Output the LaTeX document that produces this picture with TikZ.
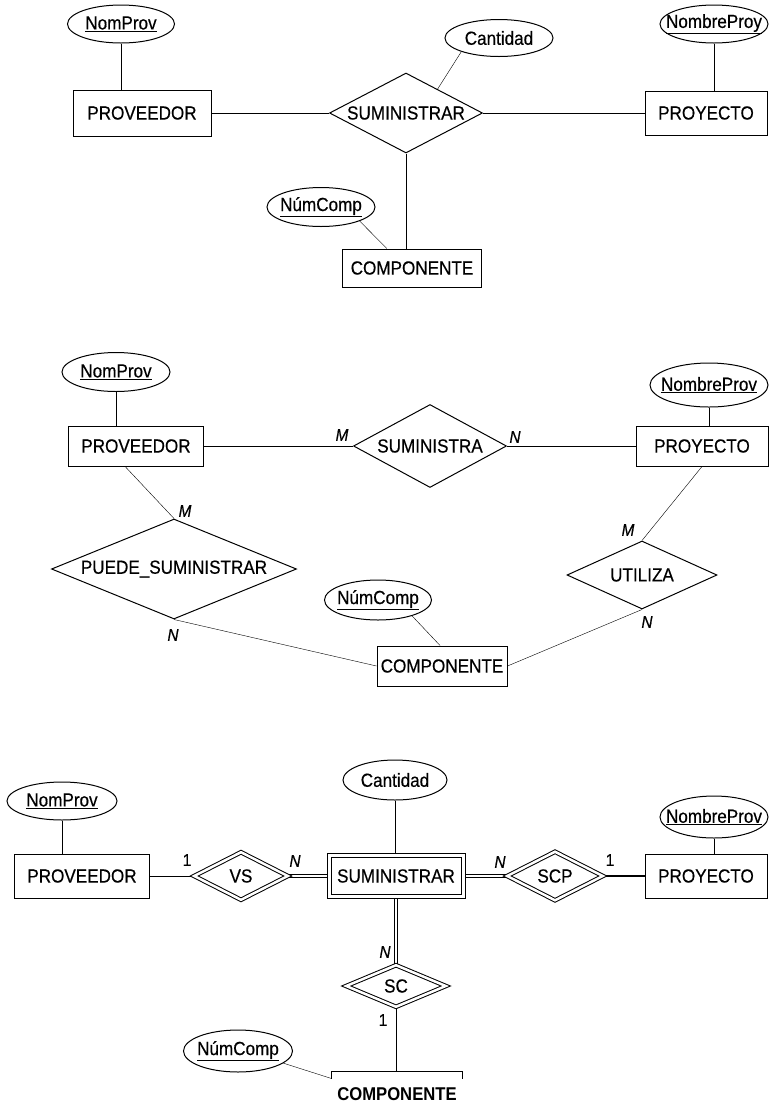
\documentclass[tikz,border=0pt]{standalone}
\usepackage{fontspec}
\setmainfont{Liberation Sans}[FakeStretch=0.9,UprightFeatures={FakeBold=0.4},ItalicFeatures={FakeBold=0.6}]
\usetikzlibrary{shapes.geometric,calc}
\pgfdeclarelayer{background}
\pgfsetlayers{background,main}
% zero-width label so that shapes keep their given size
\newcommand\lbl[1]{\makebox[0pt]{#1}}

\begin{document}
\begin{tikzpicture}[x=1pt,y=-1pt,line width=1pt,
  every node/.style={font=\fontsize{19}{21}\selectfont,inner sep=0pt},
  entity/.style={draw,rectangle},
  weakent/.style={draw,rectangle,double,double distance=3pt},
  attr/.style={draw,ellipse},
  rel/.style={draw,diamond},
  idrel/.style={draw,diamond,double,double distance=2.5pt},
  card/.style={font=\fontsize{17}{18}\selectfont\itshape},
  num/.style={font=\fontsize{17}{18}\selectfont},
  dbl/.style={double,double distance=2.5pt},
]
\useasboundingbox (0,0) rectangle (769,1104);

% ---------- first schema: ternary relationship ----------
\node[attr,minimum width=107,minimum height=38] (np1) at (121,24) {\lbl{\underline{NomProv}}};
\node[entity,minimum width=138,minimum height=46] (pv1) at (142,113) {PROVEEDOR};
\node[rel,minimum width=153,minimum height=80] (su1) at (406,113) {\lbl{SUMINISTRAR}};
\node[attr,minimum width=108,minimum height=37] (ca1) at (499,38) {\lbl{Cantidad}};
\node[attr,minimum width=108,minimum height=38] (npy1) at (714,24) {\lbl{\underline{NombreProy}}};
\node[entity,minimum width=122,minimum height=44] (py1) at (706,113) {PROYECTO};
\node[attr,minimum width=108,minimum height=39] (nc1) at (321,207) {\lbl{\underline{NúmComp}}};
\node[entity,minimum width=139,minimum height=38] (co1) at (412,268) {COMPONENTE};

% ---------- second schema: three binary relationships ----------
\node[attr,minimum width=108,minimum height=39] (np2) at (116,372) {\lbl{\underline{NomProv}}};
\node[entity,minimum width=135,minimum height=40] (pv2) at (136,446) {PROVEEDOR};
\node[rel,minimum width=153,minimum height=83] (su2) at (430,446) {\lbl{SUMINISTRA}};
\node[attr,minimum width=118,minimum height=44] (npv2) at (709,385) {\lbl{\underline{NombreProv}}};
\node[entity,minimum width=132,minimum height=40] (py2) at (702,446) {PROYECTO};
\node[rel,minimum width=150,minimum height=68] (ut2) at (642,575) {\lbl{UTILIZA}};
\node[entity,minimum width=130,minimum height=40] (co2) at (442,666) {COMPONENTE};
\node[attr,minimum width=107,minimum height=40] (nc2) at (378,600) {\lbl{\underline{NúmComp}}};
\node[rel,minimum width=245,minimum height=100] (ps2) at (174,569) {\lbl{PUEDE\_SUMINISTRAR}};

\node[card] (c2a) at (342,435) {M};
\node[card] (c2b) at (515,437) {N};
\node[card] (c2c) at (185,511) {M};
\node[card] (c2d) at (173,635) {N};
\node[card] (c2e) at (628,530) {M};
\node[card] (c2f) at (647,622) {N};

% ---------- third schema: weak entity SUMINISTRAR ----------
\node[attr,minimum width=110,minimum height=38] (np3) at (62,801) {\lbl{\underline{NomProv}}};
\node[entity,minimum width=135,minimum height=44] (pv3) at (82,876) {PROVEEDOR};
\node[idrel,minimum width=94,minimum height=48] (vs3) at (241,876) {\lbl{VS}};
\node[weakent,minimum width=134,minimum height=41] (su3) at (396,876) {SUMINISTRAR};
\node[attr,minimum width=104,minimum height=40] (ca3) at (395,780) {\lbl{Cantidad}};
\node[idrel,minimum width=96,minimum height=49] (scp3) at (555,876) {\lbl{SCP}};
\node[entity,minimum width=122,minimum height=44] (py3) at (706,876) {PROYECTO};
\node[attr,minimum width=108,minimum height=42] (npv3) at (714,817) {\lbl{\underline{NombreProv}}};
\node[idrel,minimum width=100,minimum height=42] (sc3) at (396,986) {\lbl{SC}};
\node[minimum width=130,minimum height=44,font=\fontsize{18.5}{20}\selectfont\bfseries] (co3) at (397,1094) {COMPONENTE};
\node[attr,minimum width=109,minimum height=42] (nc3) at (238,1051) {\lbl{\underline{NúmComp}}};

\node[num] (c3a) at (187,860) {1};
\node[card] (c3b) at (295,861) {N};
\node[card] (c3c) at (500,862) {N};
\node[num] (c3d) at (610,860) {1};
\node[card] (c3e) at (385,952) {N};
\node[num] (c3f) at (383,1020) {1};

\begin{pgfonlayer}{background}
  \fill[white] (0,0) rectangle (769,1104);
  % first schema
  \draw (np1.south) -- (np1.south |- pv1.north);
  \draw (pv1.east) -- (su1.west);
  \draw (ca1.200) -- ($(su1.north)!0.41!(su1.east)$);
  \draw (su1.east) -- (py1.west);
  \draw (npy1.south) -- (npy1.south |- py1.north);
  \draw (su1.south) -- (su1.south |- co1.north);
  \draw (nc1.-20) -- ($(co1.north west)!0.32!(co1.north east)$);
  % second schema
  \draw (np2.south) -- (np2.south |- pv2.north);
  \draw (pv2.east) -- (su2.west);
  \draw (su2.east) -- (py2.west);
  \draw (npv2.south) -- (npv2.south |- py2.north);
  \draw ($(pv2.south west)!0.42!(pv2.south east)$) -- (ps2.north);
  \draw (py2.south) -- (ut2.north);
  \draw (ps2.south) -- (co2.west);
  \draw (ut2.south) -- (co2.east);
  \draw (nc2.-25) -- ($(co2.north west)!0.485!(co2.north east)$);
  % third schema
  \draw (np3.south) -- (np3.south |- pv3.north);
  \draw (pv3.east) -- (vs3.west);
  \draw[dbl] (vs3.east) -- (su3.west);
  \draw[dbl] (su3.east) -- (scp3.west);
  \draw[line width=1.6pt] (scp3.east) -- (py3.west);
  \draw (ca3.south) -- (ca3.south |- su3.north);
  \draw (npv3.south) -- (npv3.south |- py3.north);
  \draw[dbl] (su3.south) -- (sc3.north);
  \draw (sc3.south) -- (sc3.south |- co3.north);
  \draw ($(co3.north west)+(0,7)$) -- (co3.north west) -- (co3.north east) -- ++(0,7);
  \draw (nc3.-15) -- ($(co3.north west)+(0,7)$);
\end{pgfonlayer}
\end{tikzpicture}
\end{document}
